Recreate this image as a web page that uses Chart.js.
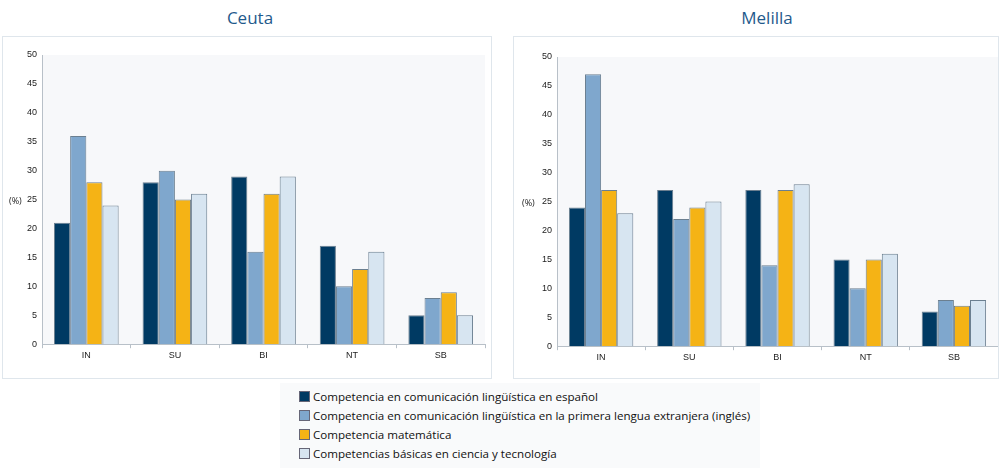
<!DOCTYPE html>
<html>
<head>
<meta charset="utf-8">
<script src="https://cdn.jsdelivr.net/npm/chart.js@4/dist/chart.umd.min.js"></script>
<style>
  body { margin: 0; background: #fff; font-family: "Open Sans", sans-serif; }
  .titulo { position: absolute; top: 6px; font-size: 17px; color: #1f5a8c; width: 200px; text-align: center; }
  .caja { position: absolute; top: 36px; height: 341px; border: 1px solid #dfe6ec; }
  .pct { position: absolute; font-size: 9px; color: #222; }
  #leyenda { position: absolute; left: 280px; top: 383px; width: 480px; height: 85px; background: #f9fafb; font-size: 11.6px; color: #111; }
  #leyenda div { position: absolute; left: 19px; white-space: nowrap; }
  #leyenda span { display: inline-block; width: 9px; height: 9px; margin-right: 3px; border: 1px solid #667; vertical-align: -1px; }
</style>
</head>
<body>
<div class="titulo" style="left:150px">Ceuta</div>
<div class="titulo" style="left:667px">Melilla</div>
<div class="caja" style="left:2px;width:488px"><canvas id="graficoCeuta"></canvas></div>
<div class="caja" style="left:513px;width:484px"><canvas id="graficoMelilla"></canvas></div>
<div class="pct" style="left:9px;top:194px">(%)</div>
<div class="pct" style="left:522px;top:196px">(%)</div>
<div id="leyenda"></div>
<script>
// Datos
const categorias = ['IN', 'SU', 'BI', 'NT', 'SB'];
const series = [
  'Competencia en comunicación lingüística en español',
  'Competencia en comunicación lingüística en la primera lengua extranjera (inglés)',
  'Competencia matemática',
  'Competencias básicas en ciencia y tecnología'
];
const colores = ['#003a63', '#7fa7cd', '#f5b315', '#d7e5f1'];

const ceutaEspanol = [21, 28, 29, 17, 5];
const ceutaIngles = [36, 30, 16, 10, 8];
const ceutaMatematica = [28, 25, 26, 13, 9];
const ceutaCiencia = [24, 26, 29, 16, 5];

const melillaEspanol = [24, 27, 27, 15, 6];
const melillaIngles = [47, 22, 14, 10, 8];
const melillaMatematica = [27, 24, 27, 15, 7];
const melillaCiencia = [23, 25, 28, 16, 8];

const ticksY = [0, 5, 10, 15, 20, 25, 30, 35, 40, 45, 50];

// fondo gris claro del área del gráfico
const fondoArea = {
  id: 'fondoArea',
  beforeDraw(chart) {
    const a = chart.chartArea, ctx = chart.ctx;
    ctx.save();
    ctx.fillStyle = '#f7f8fa';
    ctx.fillRect(a.left, a.top, a.right - a.left, a.bottom - a.top);
    ctx.restore();
  }
};

function creaGrafico(id, valores, padding) {
  const datasets = valores.map((v, i) => ({
    label: series[i],
    data: v,
    backgroundColor: colores[i],
    borderColor: '#6b7f90',
    borderWidth: 1,
    categoryPercentage: 0.73,
    barPercentage: 1
  }));
  return new Chart(document.getElementById(id), {
    type: 'bar',
    data: { labels: categorias, datasets: datasets },
    options: {
      responsive: true,
      maintainAspectRatio: false,
      animation: false,
      layout: { padding: padding },
      plugins: { legend: { display: false }, tooltip: { enabled: false } },
      scales: {
        x: {
          grid: { display: true, drawOnChartArea: false, offset: true, tickLength: 4, color: '#b8c0c8' },
          border: { color: '#b8c0c8' },
          ticks: { color: '#222', font: { size: 9 }, padding: 2 }
        },
        y: {
          min: 0, max: 50,
          afterBuildTicks(axis) { axis.ticks = ticksY.map(v => ({ value: v })); },
          grid: { display: false, drawTicks: false },
          border: { color: '#b8c0c8' },
          ticks: { color: '#222', font: { size: 9 }, padding: 5 }
        }
      }
    },
    plugins: [fondoArea]
  });
}

creaGrafico('graficoCeuta', [ceutaEspanol, ceutaIngles, ceutaMatematica, ceutaCiencia],
  { left: 19, right: 6, top: 18, bottom: 15 });
creaGrafico('graficoMelilla', [melillaEspanol, melillaIngles, melillaMatematica, melillaCiencia],
  { left: 23, right: 0, top: 20, bottom: 13 });

// leyenda
const leyenda = document.getElementById('leyenda');
series.forEach((s, i) => {
  const d = document.createElement('div');
  d.style.top = (6 + i * 19) + 'px';
  d.innerHTML = '<span style="background:' + colores[i] + '"></span>' + s;
  leyenda.appendChild(d);
});
</script>
</body>
</html>
